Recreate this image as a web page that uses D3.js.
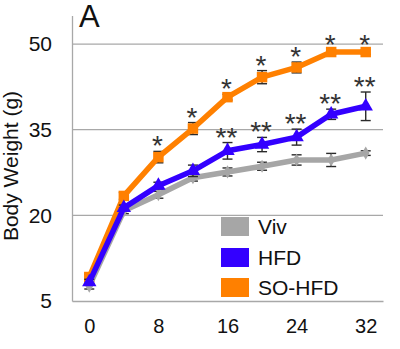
<!DOCTYPE html>
<html>
<head>
<meta charset="utf-8">
<script src="https://cdn.jsdelivr.net/npm/d3@7/dist/d3.min.js"></script>
<style>
  html, body { margin: 0; padding: 0; background: #fff; }
  svg { display: block; font-family: "Liberation Sans", Arial, sans-serif; }
</style>
</head>
<body>
<svg id="chart" width="400" height="349"></svg>
<script>
// Body weight over time (weeks) for three diet groups, mean ± error
const weeks = [0, 4, 8, 12, 16, 20, 24, 28, 32];
const weekTicks = [0, 8, 16, 24, 32];
const weightTicks = [5, 20, 35, 50];

const vivMean   = [7.6, 20.8, 23.6, 26.6, 27.6, 28.6, 29.7, 29.7, 30.9];
const vivErr    = [0.5, 0.5, 0.6, 0.6, 0.7, 0.7, 0.9, 1.15, 0.4];
const hfdMean   = [8.3, 21.3, 25.2, 27.8, 31.3, 32.4, 33.7, 37.7, 39.1];
const hfdErr    = [0.5, 0.5, 0.6, 1.0, 1.45, 1.25, 1.4, 0.9, 2.5];
const soHfdMean = [9.2, 23.4, 30.2, 35.2, 40.7, 44.2, 45.9, 48.6, 48.6];
const soHfdErr  = [0.5, 0.6, 1.0, 1.05, 0.5, 1.15, 0.95, 0.4, 0.4];

const hfdSig   = ["", "", "", "", "**", "**", "**", "**", "**"];
const soHfdSig = ["", "", "*", "*", "*", "*", "*", "*", "*"];

const groupNames = ["Viv", "HFD", "SO-HFD"];
const groupColors = ["#A6A6A6", "#3300FF", "#FF8000"];

const svg = d3.select("#chart");
const plot = { left: 72, right: 383, top: 15.5, bottom: 301 };

const x = d3.scalePoint().domain(weeks).range([plot.left, plot.right]).padding(0.5);
const y = d3.scaleLinear().domain([5, 55]).range([plot.bottom, plot.top]);

// gridlines
svg.append("g").selectAll("line")
  .data(weightTicks.filter(t => t > 5))
  .join("line")
  .attr("x1", plot.left).attr("x2", plot.right)
  .attr("y1", d => y(d)).attr("y2", d => y(d))
  .attr("stroke", "#A8A8A8").attr("stroke-width", 1.3);

// axes
const yAxis = svg.append("g")
  .attr("transform", `translate(${plot.left},0)`)
  .call(d3.axisLeft(y).tickValues(weightTicks).tickSize(0).tickPadding(20));
yAxis.select(".domain").attr("stroke", "#A8A8A8").attr("stroke-width", 1.3);
yAxis.selectAll("text").attr("font-size", 21).attr("fill", "#111")
  .attr("font-family", "Liberation Sans, Arial, sans-serif");

const xAxis = svg.append("g")
  .attr("transform", `translate(0,${plot.bottom})`)
  .call(d3.axisBottom(x).tickValues(weekTicks).tickSize(0).tickPadding(18));
xAxis.select(".domain").attr("stroke", "#A8A8A8").attr("stroke-width", 1.3);
xAxis.selectAll("text").attr("font-size", 20).attr("fill", "#111")
  .attr("font-family", "Liberation Sans, Arial, sans-serif");

// axis title and panel letter
svg.append("text")
  .attr("transform", "translate(18,166) rotate(-90)")
  .attr("text-anchor", "middle")
  .attr("font-size", 21).attr("fill", "#111")
  .text("Body Weight (g)");

svg.append("text")
  .attr("x", 79).attr("y", 27)
  .attr("font-size", 31).attr("fill", "#111")
  .text("A");

// series, drawn in stacking order (HFD on top)
const series = [
  { name: "SO-HFD", mean: soHfdMean, err: soHfdErr, color: groupColors[2], marker: d3.symbolSquare, size: 110, sig: soHfdSig },
  { name: "Viv",    mean: vivMean,   err: vivErr,   color: groupColors[0], marker: d3.symbolDiamond, size: 50, sig: null },
  { name: "HFD",    mean: hfdMean,   err: hfdErr,   color: groupColors[1], marker: d3.symbolTriangle, size: 90, sig: hfdSig }
];
const points = s => weeks.map((w, i) => ({ w, v: s.mean[i], e: s.err[i], sig: s.sig ? s.sig[i] : "" }));

const line = d3.line().x(d => x(d.w)).y(d => y(d.v));

series.forEach(s => {
  const pts = points(s);
  const g = svg.append("g");

  // error bars sit beneath the series line and markers
  const eb = g.selectAll(".eb").data(pts).join("g")
    .attr("stroke", "#2a2a2a").attr("stroke-width", 1.4);
  eb.append("line")
    .attr("x1", d => x(d.w)).attr("x2", d => x(d.w))
    .attr("y1", d => y(d.v - d.e)).attr("y2", d => y(d.v + d.e));
  eb.append("line")
    .attr("x1", d => x(d.w) - 5).attr("x2", d => x(d.w) + 5)
    .attr("y1", d => y(d.v + d.e)).attr("y2", d => y(d.v + d.e));
  eb.append("line")
    .attr("x1", d => x(d.w) - 5).attr("x2", d => x(d.w) + 5)
    .attr("y1", d => y(d.v - d.e)).attr("y2", d => y(d.v - d.e));

  g.append("path")
    .datum(pts)
    .attr("d", line)
    .attr("fill", "none")
    .attr("stroke", s.color)
    .attr("stroke-width", 5.5)
    .attr("stroke-linejoin", "round");

  g.selectAll(".mk").data(pts).join("path")
    .attr("transform", d => `translate(${x(d.w)},${y(d.v)})`)
    .attr("d", d3.symbol().type(s.marker).size(s.size))
    .attr("fill", s.color);
});

// significance marks above the error bars
series.filter(s => s.sig).forEach(s => {
  svg.append("g").selectAll("text").data(points(s).filter(d => d.sig)).join("text")
    .attr("x", d => x(d.w) - 1)
    .attr("y", d => y(d.v + d.e) + 4)
    .attr("text-anchor", "middle")
    .attr("font-size", 28)
    .attr("fill", "#333")
    .text(d => d.sig);
});

// legend
const legend = svg.append("g");
const legendRows = [0, 1, 2];
const legendTop = [217, 248, 278];
legend.selectAll("rect").data(legendRows).join("rect")
  .attr("x", 221).attr("y", i => legendTop[i])
  .attr("width", 28).attr("height", 19)
  .attr("fill", i => groupColors[i]);
legend.selectAll("text").data(legendRows).join("text")
  .attr("x", 258).attr("y", i => legendTop[i] + 17)
  .attr("font-size", 21).attr("fill", "#111")
  .text(i => groupNames[i]);
</script>
</body>
</html>
